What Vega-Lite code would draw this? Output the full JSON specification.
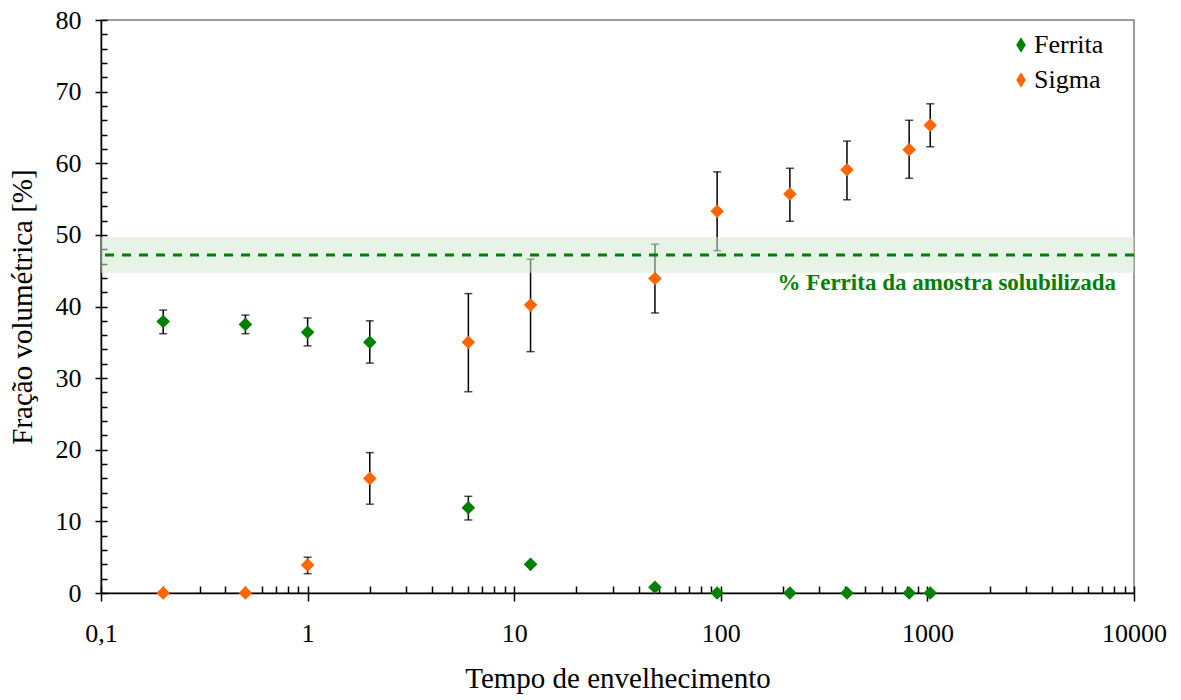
{
  "$schema": "https://vega.github.io/schema/vega-lite/v6.json",
  "width": 1033,
  "height": 573,
  "autosize": {"type": "none"},
  "padding": {"left": 101, "top": 20, "right": 47, "bottom": 107},
  "background": "white",
  "config": {
    "view": {"stroke": "#7f7f7f", "strokeWidth": 1.5},
    "font": "Liberation Serif",
    "axis": {
      "grid": false,
      "domainColor": "black",
      "tickColor": "black",
      "labelColor": "black",
      "titleColor": "black",
      "labelFont": "Liberation Serif",
      "titleFont": "Liberation Serif",
      "titleFontWeight": "normal",
      "tickWidth": 1.5,
      "domainWidth": 1.5
    }
  },
  "datasets": {
    "pts": [
      {"series": "Ferrita", "t": 0.2, "v": 37.9, "lo": 36.2, "hi": 39.5},
      {"series": "Ferrita", "t": 0.5, "v": 37.5, "lo": 36.2, "hi": 38.8},
      {"series": "Ferrita", "t": 1, "v": 36.4, "lo": 34.5, "hi": 38.4},
      {"series": "Ferrita", "t": 2, "v": 35.0, "lo": 32.1, "hi": 38.0},
      {"series": "Ferrita", "t": 6, "v": 11.9, "lo": 10.2, "hi": 13.5},
      {"series": "Ferrita", "t": 12, "v": 4.0, "lo": null, "hi": null},
      {"series": "Ferrita", "t": 48, "v": 0.8, "lo": null, "hi": null},
      {"series": "Ferrita", "t": 96, "v": 0, "lo": null, "hi": null},
      {"series": "Ferrita", "t": 216, "v": 0, "lo": null, "hi": null},
      {"series": "Ferrita", "t": 408, "v": 0, "lo": null, "hi": null},
      {"series": "Ferrita", "t": 816, "v": 0, "lo": null, "hi": null},
      {"series": "Ferrita", "t": 1032, "v": 0, "lo": null, "hi": null},
      {"series": "Sigma", "t": 0.2, "v": 0, "lo": null, "hi": null},
      {"series": "Sigma", "t": 0.5, "v": 0, "lo": null, "hi": null},
      {"series": "Sigma", "t": 1, "v": 3.9, "lo": 2.7, "hi": 5.0},
      {"series": "Sigma", "t": 2, "v": 16.0, "lo": 12.4, "hi": 19.6},
      {"series": "Sigma", "t": 6, "v": 35.0, "lo": 28.1, "hi": 41.8},
      {"series": "Sigma", "t": 12, "v": 40.2, "lo": 33.7, "hi": 46.6},
      {"series": "Sigma", "t": 48, "v": 43.9, "lo": 39.1, "hi": 48.7},
      {"series": "Sigma", "t": 96, "v": 53.3, "lo": 47.8, "hi": 58.8},
      {"series": "Sigma", "t": 216, "v": 55.7, "lo": 51.9, "hi": 59.3},
      {"series": "Sigma", "t": 408, "v": 59.1, "lo": 54.9, "hi": 63.1},
      {"series": "Sigma", "t": 816, "v": 61.9, "lo": 57.9, "hi": 66.0},
      {"series": "Sigma", "t": 1032, "v": 65.3, "lo": 62.3, "hi": 68.3}
    ],
    "ref": [{"lo": 44.7, "mid": 47.2, "hi": 49.7}],
    "note": [{"t": 1240, "v": 43.3, "label": "% Ferrita da amostra solubilizada"}]
  },
  "resolve": {"axis": {"x": "independent", "y": "independent"}},
  "layer": [
    {
      "data": {"name": "pts"},
      "transform": [{"filter": "datum.lo != null"}],
      "mark": {"type": "rule", "color": "black", "strokeWidth": 1.5},
      "encoding": {
        "x": {
          "field": "t", "type": "quantitative",
          "scale": {"type": "log", "domain": [0.1, 10000], "nice": false},
          "axis": {
            "orient": "bottom",
            "values": [0.1, 0.2, 0.3, 0.4, 0.5, 0.6, 0.7, 0.8, 0.9, 1, 2, 3, 4, 5, 6, 7, 8, 9, 10, 20, 30, 40, 50, 60, 70, 80, 90, 100, 200, 300, 400, 500, 600, 700, 800, 900, 1000, 2000, 3000, 4000, 5000, 6000, 7000, 8000, 9000, 10000],
            "tickSize": -7, "labels": false, "domain": false, "title": null
          }
        },
        "y": {
          "field": "lo", "type": "quantitative",
          "scale": {"domain": [0, 80], "nice": false},
          "axis": {
            "orient": "left",
            "values": [0, 2, 4, 6, 8, 10, 12, 14, 16, 18, 20, 22, 24, 26, 28, 30, 32, 34, 36, 38, 40, 42, 44, 46, 48, 50, 52, 54, 56, 58, 60, 62, 64, 66, 68, 70, 72, 74, 76, 78, 80],
            "tickSize": -6, "labels": false, "domain": false, "title": null
          }
        },
        "y2": {"field": "hi"}
      }
    },
    {
      "data": {"name": "pts"},
      "transform": [{"filter": "datum.lo != null"}, {"fold": ["lo", "hi"], "as": ["end", "val"]}],
      "mark": {"type": "tick", "orient": "horizontal", "color": "black", "size": 8, "thickness": 1.5},
      "encoding": {
        "x": {"field": "t", "type": "quantitative", "axis": null},
        "y": {"field": "val", "type": "quantitative", "axis": null}
      }
    },
    {
      "data": {"name": "ref"},
      "mark": {"type": "rect", "color": "#d4e9d4", "opacity": 0.55},
      "encoding": {
        "x": {"value": 0},
        "x2": {"value": "width"},
        "y": {"field": "lo", "type": "quantitative", "axis": null},
        "y2": {"field": "hi"}
      }
    },
    {
      "data": {"name": "ref"},
      "mark": {"type": "rule", "color": "#008000", "strokeWidth": 3, "strokeDash": [9, 8]},
      "encoding": {
        "y": {"field": "mid", "type": "quantitative", "axis": null}
      }
    },
    {
      "data": {"name": "pts"},
      "mark": {"type": "point", "shape": "diamond", "filled": true, "size": 185, "opacity": 1},
      "encoding": {
        "x": {
          "field": "t", "type": "quantitative",
          "scale": {"type": "log", "domain": [0.1, 10000], "nice": false},
          "axis": {
            "orient": "bottom",
            "values": [0.1, 1, 10, 100, 1000, 10000],
            "tickSize": 8,
            "labelExpr": "datum.value == 0.1 ? '0,1' : format(datum.value, 'd')",
            "labelFontSize": 26,
            "labelPadding": 19,
            "labelFlush": false,
            "labelOverlap": false,
            "title": "Tempo de envelhecimento",
            "titleFontSize": 29,
            "titlePadding": 18
          }
        },
        "y": {
          "field": "v", "type": "quantitative",
          "scale": {"domain": [0, 80], "nice": false},
          "axis": {
            "orient": "left",
            "values": [0, 10, 20, 30, 40, 50, 60, 70, 80],
            "tickSize": 6,
            "labelFontSize": 26,
            "labelPadding": 14,
            "title": "Fração volumétrica [%]",
            "titleFontSize": 29,
            "titlePadding": 18
          }
        },
        "color": {
          "field": "series", "type": "nominal",
          "scale": {"domain": ["Ferrita", "Sigma"], "range": ["#008000", "#FF6600"]},
          "legend": {
            "orient": "none",
            "legendX": 907,
            "legendY": 12,
            "title": null,
            "labelFont": "Liberation Serif",
            "labelFontSize": 26,
            "labelColor": "black",
            "symbolType": "M0,-1L0.62,0L0,1L-0.62,0Z",
            "symbolSize": 240,
            "symbolStrokeWidth": 0,
            "rowPadding": 9,
            "labelOffset": 0
          }
        }
      }
    },
    {
      "data": {"name": "note"},
      "mark": {"type": "text", "font": "Liberation Serif", "fontSize": 23, "fontWeight": "bold", "color": "#008000", "align": "center", "baseline": "middle"},
      "encoding": {
        "x": {"field": "t", "type": "quantitative", "axis": null},
        "y": {"field": "v", "type": "quantitative", "axis": null},
        "text": {"field": "label"}
      }
    }
  ]
}
